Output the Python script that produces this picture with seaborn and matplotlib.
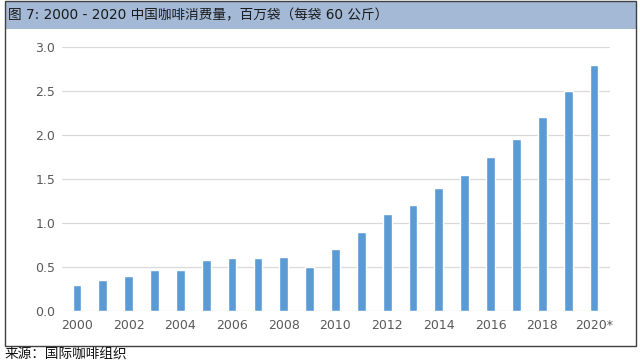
import matplotlib
matplotlib.use("Agg")
import matplotlib.pyplot as plt
import seaborn as sns
import pandas as pd
from matplotlib.patches import Rectangle

years = [str(y) for y in range(2000, 2021)]
consumption = [0.30, 0.35, 0.40, 0.47, 0.47, 0.58, 0.60, 0.60, 0.61, 0.50,
               0.70, 0.90, 1.10, 1.20, 1.40, 1.55, 1.75, 1.95, 2.20, 2.50, 2.80]
tick_labels = ["2000", "2002", "2004", "2006", "2008", "2010",
               "2012", "2014", "2016", "2018", "2020*"]
title = "图 7: 2000 - 2020 中国咖啡消费量，百万袋（每袋 60 公斤）"
source = "来源：国际咖啡组织"

df = pd.DataFrame({"year": years, "value": consumption})

sns.set_style("white")
# DejaVu for latin/digits, Noto CJK picks up the Chinese characters
plt.rcParams["font.family"] = ["DejaVu Sans", "Noto Sans CJK SC"]

W, H = 640, 364
fig = plt.figure(figsize=(6.4, 3.64), dpi=100)

# title band and outer frame
fig.patches.append(Rectangle((5 / W, 1 - 29 / H), 631 / W, 28 / H,
                             transform=fig.transFigure, facecolor="#a3b9d5",
                             edgecolor="none", zorder=0))
fig.patches.append(Rectangle((5 / W, 1 - 346 / H), 631 / W, 345 / H,
                             transform=fig.transFigure, facecolor="none",
                             edgecolor="#404040", linewidth=1.0, zorder=1))
fig.text(8 / W, 1 - 15 / H, title, fontsize=9.8, color="#1a1a1a",
         va="center", ha="left")
fig.text(5 / W, 1 - 355 / H, source, fontsize=9.8, color="#111111",
         va="center", ha="left")

ax = fig.add_axes([62 / W, 53 / H, 548 / W, 264 / H])
sns.barplot(data=df, x="year", y="value", color="#5b9bd5", width=0.34,
            saturation=1, ax=ax, zorder=3)

ax.set_ylim(0, 3.0)
ax.set_xlim(-0.58, 20.62)
ax.set_yticks([0, 0.5, 1.0, 1.5, 2.0, 2.5, 3.0])
ax.set_yticklabels(["0.0", "0.5", "1.0", "1.5", "2.0", "2.5", "3.0"])
ax.set_xticks(range(0, 21, 2))
ax.set_xticklabels(tick_labels)
ax.tick_params(axis="both", length=0, labelsize=9, labelcolor="#595959")
ax.tick_params(axis="x", pad=6)
ax.tick_params(axis="y", pad=5)
ax.grid(axis="y", color="#d9d9d9", linewidth=0.9, zorder=0)
ax.set_axisbelow(True)
for s in ax.spines.values():
    s.set_visible(False)
ax.set_xlabel("")
ax.set_ylabel("")

fig.savefig("out.png", dpi=100)
